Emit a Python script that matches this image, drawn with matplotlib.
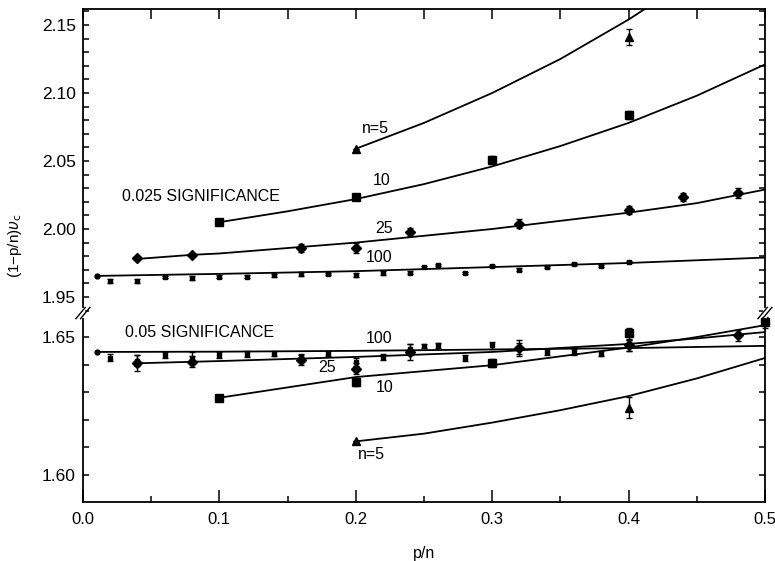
import numpy as np
import matplotlib.pyplot as plt
from matplotlib.ticker import MultipleLocator

plt.rcParams['font.family'] = ['Liberation Sans', 'DejaVu Sans']
plt.rcParams['font.size'] = 11.5

# ---- 0.025 significance (upper panel) ----
# fitted curves
hi_c5_x = [0.20, 0.25, 0.30, 0.35, 0.40, 0.42]
hi_c5_y = [2.059, 2.078, 2.100, 2.125, 2.154, 2.167]
hi_c10_x = [0.10, 0.15, 0.20, 0.25, 0.30, 0.35, 0.40, 0.45, 0.50]
hi_c10_y = [2.005, 2.013, 2.022, 2.033, 2.046, 2.061, 2.078, 2.098, 2.121]
hi_c25_x = [0.04, 0.08, 0.10, 0.20, 0.30, 0.40, 0.45, 0.50]
hi_c25_y = [1.978, 1.981, 1.982, 1.990, 2.000, 2.012, 2.019, 2.029]
hi_c100_x = [0.01, 0.10, 0.20, 0.30, 0.40, 0.50]
hi_c100_y = [1.9655, 1.967, 1.969, 1.972, 1.975, 1.979]

# simulated points
hi_p5_x = [0.20, 0.40]
hi_p5_y = [2.059, 2.141]
hi_p5_e = [0.0, 0.006]
hi_p10_x = [0.10, 0.20, 0.30, 0.40]
hi_p10_y = [2.005, 2.0236, 2.0505, 2.084]
hi_p10_e = [0.0, 0.002, 0.003, 0.003]
hi_p25_x = [0.04, 0.08, 0.16, 0.20, 0.24, 0.32, 0.40, 0.44, 0.48]
hi_p25_y = [1.9787, 1.981, 1.986, 1.986, 1.998, 2.004, 2.014, 2.0236, 2.0265]
hi_p25_e = [0.0, 0.0, 0.003, 0.004, 0.003, 0.003, 0.003, 0.003, 0.004]
hi_p100_x = [0.02, 0.04, 0.06, 0.08, 0.10, 0.12, 0.14, 0.16, 0.18, 0.20, 0.22,
             0.24, 0.25, 0.26, 0.28, 0.30, 0.32, 0.34, 0.36, 0.38, 0.40]
hi_p100_y = [1.962, 1.962, 1.9648, 1.964, 1.965, 1.965, 1.966, 1.967, 1.967, 1.966, 1.9677,
             1.968, 1.972, 1.9735, 1.9677, 1.9728, 1.970, 1.972, 1.9743, 1.9728, 1.9757]
hi_p100_e = [0.0015, 0.0015, 0.001, 0.0012, 0.0012, 0.0012, 0.001, 0.0012, 0.001, 0.0015, 0.0012,
             0.001, 0.001, 0.001, 0.001, 0.001, 0.001, 0.001, 0.001, 0.001, 0.001]

# ---- 0.05 significance (lower panel) ----
lo_c5_x = [0.20, 0.25, 0.30, 0.35, 0.40, 0.45, 0.50]
lo_c5_y = [1.6122, 1.615, 1.619, 1.6235, 1.6286, 1.635, 1.6424]
lo_c10_x = [0.10, 0.20, 0.30, 0.40, 0.45, 0.50]
lo_c10_y = [1.628, 1.6355, 1.6398, 1.6462, 1.650, 1.6543]
lo_c25_x = [0.04, 0.10, 0.20, 0.30, 0.40, 0.45, 0.50]
lo_c25_y = [1.6405, 1.6413, 1.6428, 1.6446, 1.6475, 1.6495, 1.6518]
lo_c100_x = [0.01, 0.10, 0.20, 0.30, 0.40, 0.50]
lo_c100_y = [1.6446, 1.6447, 1.645, 1.6455, 1.646, 1.6468]

lo_p5_x = [0.20, 0.40]
lo_p5_y = [1.6122, 1.6243]
lo_p5_e = [0.0, 0.0038]
lo_p10_x = [0.10, 0.20, 0.30, 0.40, 0.50]
lo_p10_y = [1.628, 1.6338, 1.6406, 1.6514, 1.6554]
lo_p10_e = [0.0, 0.0015, 0.0015, 0.002, 0.002]
lo_p25_x = [0.04, 0.08, 0.16, 0.20, 0.24, 0.32, 0.40, 0.48]
lo_p25_y = [1.6406, 1.641, 1.6417, 1.6385, 1.6446, 1.646, 1.647, 1.6507]
lo_p25_e = [0.003, 0.002, 0.002, 0.002, 0.003, 0.003, 0.002, 0.002]
lo_p100_x = [0.02, 0.04, 0.06, 0.08, 0.10, 0.12, 0.14, 0.16, 0.18, 0.20, 0.22,
             0.24, 0.25, 0.26, 0.28, 0.30, 0.32, 0.34, 0.36, 0.38, 0.40]
lo_p100_y = [1.6425, 1.6415, 1.6435, 1.6425, 1.6435, 1.6438, 1.644, 1.6425, 1.644, 1.641, 1.6428,
             1.6455, 1.6468, 1.647, 1.6424, 1.647, 1.646, 1.6446, 1.6446, 1.644, 1.647]
lo_p100_e = [0.0012, 0.002, 0.001, 0.002, 0.001, 0.001, 0.001, 0.001, 0.001, 0.0015, 0.001,
             0.002, 0.0008, 0.001, 0.001, 0.0012, 0.002, 0.001, 0.001, 0.001, 0.002]

fig = plt.figure(figsize=(7.75, 5.61), dpi=100)
ax_hi = fig.add_axes([0.107, 0.442, 0.880, 0.542])
ax_lo = fig.add_axes([0.107, 0.105, 0.880, 0.337], sharex=ax_hi)

lw = 1.3
ebkw = dict(fmt='none', ecolor='k', elinewidth=1.0, capsize=2.5, capthick=1.0, clip_on=False)


def draw_set(ax, curves, points):
    for cx, cy in curves:
        ax.plot(cx, cy, color='k', lw=lw, solid_capstyle='round', solid_joinstyle='round')
    for px, py, pe, mk, ms in points:
        ax.errorbar(px, py, yerr=pe, **ebkw)
        ax.plot(px, py, linestyle='none', marker=mk, ms=ms, color='k', clip_on=False)


draw_set(ax_hi,
         [(hi_c5_x, hi_c5_y), (hi_c10_x, hi_c10_y), (hi_c25_x, hi_c25_y), (hi_c100_x, hi_c100_y)],
         [(hi_p5_x, hi_p5_y, hi_p5_e, '^', 6),
          (hi_p10_x, hi_p10_y, hi_p10_e, 's', 5.5),
          (hi_p25_x, hi_p25_y, hi_p25_e, 'D', 5),
          (hi_p100_x, hi_p100_y, hi_p100_e, 's', 3.5)])
ax_hi.plot(hi_c100_x[0], hi_c100_y[0], 'o', ms=3.5, color='k')

draw_set(ax_lo,
         [(lo_c5_x, lo_c5_y), (lo_c10_x, lo_c10_y), (lo_c25_x, lo_c25_y), (lo_c100_x, lo_c100_y)],
         [(lo_p5_x, lo_p5_y, lo_p5_e, '^', 6),
          (lo_p10_x, lo_p10_y, lo_p10_e, 's', 5.5),
          (lo_p25_x, lo_p25_y, lo_p25_e, 'D', 5),
          (lo_p100_x, lo_p100_y, lo_p100_e, 's', 3.5)])
ax_lo.plot(lo_c100_x[0], lo_c100_y[0], 'o', ms=3.5, color='k')

# the fitted curve for n=5 leaves the top of the frame
ax_hi.set_xlim(0, 0.5)
ax_hi.set_ylim(1.9382, 2.1618)
ax_lo.set_ylim(1.5902, 1.6587)

for ax in (ax_hi, ax_lo):
    for s in ax.spines.values():
        s.set_linewidth(1.3)
    ax.yaxis.set_major_locator(MultipleLocator(0.05))
    ax.yaxis.set_minor_locator(MultipleLocator(0.01))
    ax.yaxis.set_major_formatter(plt.FormatStrFormatter('%.2f'))
    ax.tick_params(axis='y', which='both', direction='in', left=True, right=True,
                   length=4.5, width=1.1, pad=5, labelsize=12.5)

ax_hi.spines['bottom'].set_visible(False)
ax_lo.spines['top'].set_visible(False)

ax_lo.xaxis.set_major_locator(MultipleLocator(0.1))
ax_lo.xaxis.set_minor_locator(MultipleLocator(0.05))
ax_lo.xaxis.set_major_formatter(plt.FormatStrFormatter('%.1f'))
ax_lo.tick_params(axis='x', which='major', direction='in', top=False, bottom=True,
                  length=9, width=1.1, pad=7, labelsize=12)
ax_lo.tick_params(axis='x', which='minor', direction='in', top=False, bottom=True,
                  length=4, width=1.1)
ax_hi.tick_params(axis='x', which='both', direction='in', top=True, bottom=False,
                  labelbottom=False, length=7, width=1.1)

# curve labels
ax_hi.text(0.2045, 2.0736, 'n=5', ha='left', va='center')
ax_hi.text(0.219, 2.036, '10', ha='center', va='center')
ax_hi.text(0.221, 2.000, '25', ha='center', va='center')
ax_hi.text(0.217, 1.979, '100', ha='center', va='center')
ax_hi.text(0.029, 2.0236, '0.025 SIGNIFICANCE', ha='left', va='center')

ax_lo.text(0.031, 1.6515, '0.05 SIGNIFICANCE', ha='left', va='center')
ax_lo.text(0.217, 1.6496, '100', ha='center', va='center')
ax_lo.text(0.179, 1.6388, '25', ha='center', va='center')
ax_lo.text(0.221, 1.6316, '10', ha='center', va='center')
ax_lo.text(0.2015, 1.6074, 'n=5', ha='left', va='center')

ax_lo.set_xlabel('p/n', labelpad=14, fontsize=11.5)
fig.text(15 / 775, 1 - 246 / 561, '(1\u2212p/n)$\\upsilon_{\\rm c}$', rotation=90,
         ha='center', va='center', fontsize=11)

# axis break marks on both side spines
yb = 0.442
for xb in (0.107, 0.987):
    fig.add_artist(plt.Line2D([xb, xb], [yb - 0.006, yb + 0.006], color='w', lw=3,
                              transform=fig.transFigure))
    for dx in (-0.003, 0.003):
        fig.add_artist(plt.Line2D([xb + dx - 0.006, xb + dx + 0.006], [yb - 0.010, yb + 0.010],
                                  color='k', lw=1.0, transform=fig.transFigure))

fig.savefig('out.png', dpi=100)
